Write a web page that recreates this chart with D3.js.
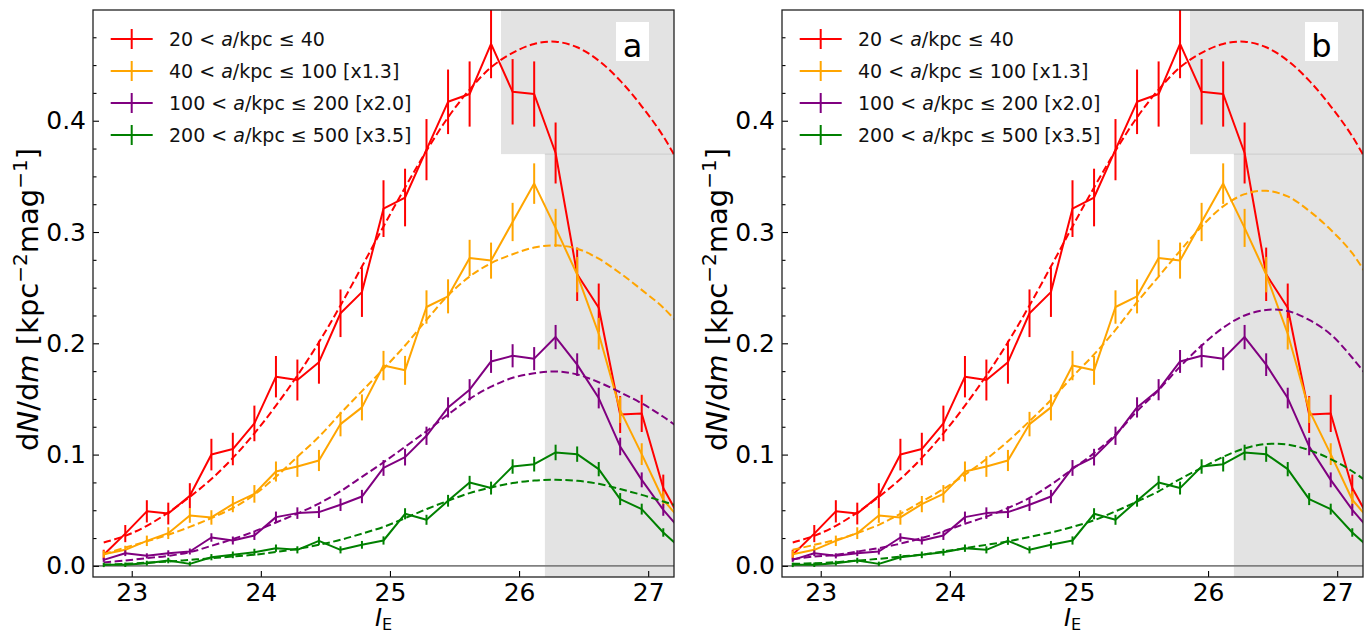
<!DOCTYPE html>
<html>
<head>
<meta charset="utf-8">
<script src="https://cdn.jsdelivr.net/npm/d3@7"></script>
<style>
  body { margin: 0; background: #fff; }
  svg { display: block; }
  text { font-family: "DejaVu Sans", sans-serif; white-space: pre; }
</style>
</head>
<body>
<svg id="fig" width="1368" height="635"></svg>
<script>
// Magnitude bin centres (bin width 1/6 mag); the last one lies past the plotted range
const magBins = [22.783, 22.950, 23.117, 23.283, 23.450, 23.617, 23.783, 23.950, 24.117, 24.283,
                 24.450, 24.617, 24.783, 24.950, 25.117, 25.283, 25.450, 25.617, 25.783, 25.950,
                 26.117, 26.283, 26.450, 26.617, 26.783, 26.950, 27.117, 27.283];

// Measured luminosity functions (already multiplied by the factor quoted in the legend)
const lfRed    = [0.010, 0.029, 0.049, 0.047, 0.063, 0.100, 0.105, 0.128, 0.170, 0.167, 0.183, 0.227, 0.246, 0.321,
                  0.331, 0.374, 0.417, 0.424, 0.469, 0.426, 0.424, 0.371, 0.262, 0.232, 0.136, 0.137, 0.070, 0.035];
const errRed   = [0.0045, 0.0077, 0.010, 0.0098, 0.0113, 0.0142, 0.0146, 0.016, 0.0186, 0.0184, 0.0193, 0.0214, 0.0223, 0.0255,
                  0.0259, 0.0275, 0.029, 0.0293, 0.0308, 0.0294, 0.0293, 0.0274, 0.024, 0.0217, 0.0166, 0.0167, 0.012, 0.0084];

const lfOrange = [0.0105, 0.0144, 0.0225, 0.0294, 0.0453, 0.0435, 0.0555, 0.0647, 0.0848, 0.0893, 0.0947, 0.1274, 0.1424, 0.180,
                  0.1757, 0.2326, 0.2422, 0.2767, 0.2743, 0.309, 0.3435, 0.3037, 0.2617, 0.2086, 0.140, 0.1004, 0.0594, 0.037];
const errOrange= [0.0032, 0.0037, 0.0047, 0.0053, 0.0066, 0.0065, 0.0073, 0.0079, 0.009, 0.0093, 0.0095, 0.011, 0.0117, 0.0132,
                  0.013, 0.015, 0.0153, 0.0163, 0.0162, 0.0172, 0.0182, 0.0171, 0.0159, 0.0142, 0.0116, 0.0098, 0.0076, 0.006];

const lfPurple = [0.0054, 0.0114, 0.009, 0.0114, 0.0129, 0.0255, 0.0228, 0.0273, 0.0438, 0.0474, 0.0483, 0.0549, 0.0623, 0.088,
                  0.0977, 0.1169, 0.1424, 0.1583, 0.1837, 0.1888, 0.1862, 0.2056, 0.1808, 0.1508, 0.1073, 0.0773, 0.0504, 0.028];
const errPurple= [0.0018, 0.0026, 0.0023, 0.0026, 0.0027, 0.0038, 0.0036, 0.004, 0.005, 0.0052, 0.0053, 0.0056, 0.006, 0.0071,
                  0.0075, 0.0082, 0.0091, 0.0095, 0.0103, 0.0104, 0.0104, 0.0109, 0.0102, 0.0093, 0.0079, 0.0067, 0.0054, 0.004];

const lfGreen  = [0.0009, 0.001, 0.0024, 0.0048, 0.0018, 0.0078, 0.0099, 0.0123, 0.0159, 0.0144, 0.0225, 0.0144, 0.0189, 0.0228,
                  0.0468, 0.0414, 0.0585, 0.0749, 0.0699, 0.0893, 0.0914, 0.1019, 0.1004, 0.0869, 0.060, 0.051, 0.030, 0.0126];
const errGreen = [0.002, 0.002, 0.0022, 0.0025, 0.002, 0.0028, 0.003, 0.0031, 0.0033, 0.0032, 0.0036, 0.0032, 0.0035, 0.0037,
                  0.005, 0.0045, 0.0053, 0.006, 0.0058, 0.0065, 0.0066, 0.007, 0.0069, 0.0064, 0.0054, 0.0049, 0.0038, 0.0028];

// Model curves evaluated at the bin centres
const fitRed     = [0.021, 0.027, 0.036, 0.048, 0.062, 0.078, 0.097, 0.119, 0.144, 0.171, 0.201, 0.234, 0.269, 0.305,
                    0.340, 0.373, 0.403, 0.428, 0.448, 0.461, 0.469, 0.471, 0.466, 0.454, 0.436, 0.413, 0.386, 0.352];
const fitOrangeA = [0.0105, 0.0165, 0.022, 0.028, 0.035, 0.043, 0.052, 0.064, 0.080, 0.098, 0.116, 0.137, 0.157, 0.177,
                    0.198, 0.221, 0.243, 0.260, 0.272, 0.280, 0.286, 0.288, 0.285, 0.276, 0.263, 0.248, 0.232, 0.211];
const fitPurpleA = [0.003, 0.0048, 0.0069, 0.009, 0.0123, 0.018, 0.024, 0.031, 0.039, 0.047, 0.056, 0.067, 0.080, 0.093,
                    0.107, 0.121, 0.136, 0.150, 0.161, 0.169, 0.173, 0.1747, 0.172, 0.165, 0.156, 0.146, 0.134, 0.120];
const fitGreenA  = [0.001, 0.0018, 0.003, 0.0039, 0.0054, 0.0069, 0.0084, 0.010, 0.0125, 0.0153, 0.0189, 0.0234, 0.029, 0.035,
                    0.0429, 0.051, 0.0585, 0.0654, 0.0704, 0.0744, 0.0767, 0.0773, 0.0764, 0.0737, 0.069, 0.0638, 0.0578, 0.052];
const fitOrangeB = [0.0144, 0.0189, 0.0234, 0.0294, 0.0369, 0.0468, 0.0578, 0.069, 0.082, 0.096, 0.112, 0.130, 0.149, 0.170,
                    0.190, 0.212, 0.237, 0.260, 0.283, 0.305, 0.323, 0.334, 0.337, 0.332, 0.319, 0.302, 0.281, 0.251];
const fitPurpleB = [0.006, 0.0084, 0.0099, 0.0129, 0.0159, 0.020, 0.025, 0.031, 0.0378, 0.0443, 0.052, 0.061, 0.073, 0.087,
                    0.1013, 0.118, 0.139, 0.158, 0.179, 0.198, 0.214, 0.225, 0.230, 0.229, 0.221, 0.208, 0.187, 0.163];
const fitGreenB  = [0.0018, 0.0024, 0.0033, 0.0048, 0.0063, 0.0084, 0.010, 0.0129, 0.0159, 0.0189, 0.022, 0.026, 0.030, 0.035,
                    0.041, 0.049, 0.0578, 0.067, 0.078, 0.088, 0.098, 0.1055, 0.1095, 0.109, 0.104, 0.096, 0.085, 0.071];

const binLow    = ["20", "40", "100", "200"];
const binHigh   = ["40", "100", "200", "500"];
const scaleTags = ["", " [x1.3]", " [x2.0]", " [x3.5]"];
const colors    = ["#ff0000", "#ffa500", "#800080", "#008000"];

const xTicks = [23, 24, 25, 26, 27];
const yTicks = [0.0, 0.1, 0.2, 0.3, 0.4];
const yMinorTicks = [0.025, 0.05, 0.075, 0.125, 0.15, 0.175, 0.225, 0.25, 0.275, 0.325, 0.35, 0.375, 0.425, 0.45, 0.475];

// Masked regions: faint-end band and the upper-right corner
const maskFaint = { x0: 26.2, x1: 27.2, y0: -0.01, y1: 0.5 };
const maskUpper = { x0: 25.86, x1: 27.2, y0: 0.37, y1: 0.5 };

const panels = [
  { left: 93,  tag: "a", fits: [fitRed, fitOrangeA, fitPurpleA, fitGreenA] },
  { left: 782, tag: "b", fits: [fitRed, fitOrangeB, fitPurpleB, fitGreenB] }
];

const svg = d3.select("#fig");
const W = 581, TOP = 10, BOTTOM = 577;
const FONT = "DejaVu Sans, sans-serif";

const obs = [
  { v: lfRed, e: errRed },
  { v: lfOrange, e: errOrange },
  { v: lfPurple, e: errPurple },
  { v: lfGreen, e: errGreen }
];

panels.forEach((p, pi) => {
  const x = d3.scaleLinear().domain([22.7, 27.2]).range([p.left, p.left + W]);
  const y = d3.scaleLinear().domain([-0.01, 0.4995]).range([BOTTOM, TOP]);
  const g = svg.append("g");

  const clipId = "clip" + pi;
  svg.append("clipPath").attr("id", clipId)
    .append("rect").attr("x", p.left).attr("y", TOP).attr("width", W).attr("height", BOTTOM - TOP);

  const plot = g.append("g").attr("clip-path", `url(#${clipId})`);

  // shaded regions
  [maskFaint, maskUpper].forEach(m => {
    plot.append("rect")
      .attr("x", x(m.x0)).attr("y", y(m.y1))
      .attr("width", x(m.x1) - x(m.x0)).attr("height", y(m.y0) - y(m.y1))
      .attr("fill", "#e3e3e3");
  });
  plot.append("line")
    .attr("x1", x(maskFaint.x0)).attr("x2", x(maskUpper.x1))
    .attr("y1", y(maskUpper.y0)).attr("y2", y(maskUpper.y0))
    .attr("stroke", "#cccccc").attr("stroke-width", 1);

  // zero line
  plot.append("line")
    .attr("x1", p.left).attr("x2", p.left + W)
    .attr("y1", y(0)).attr("y2", y(0))
    .attr("stroke", "#808080").attr("stroke-width", 1.6);

  const solid = d3.line().x((d, i) => x(magBins[i])).y(d => y(d));
  const smooth = d3.line().x((d, i) => x(magBins[i])).y(d => y(d)).curve(d3.curveCatmullRom.alpha(0.5));

  obs.forEach((s, si) => {
    const c = colors[si];
    plot.append("path").attr("d", solid(s.v))
      .attr("fill", "none").attr("stroke", c).attr("stroke-width", 2).attr("stroke-linejoin", "round");
    plot.selectAll(null).data(s.v).enter().append("line")
      .attr("x1", (d, i) => x(magBins[i])).attr("x2", (d, i) => x(magBins[i]))
      .attr("y1", (d, i) => y(d - s.e[i])).attr("y2", (d, i) => y(d + s.e[i]))
      .attr("stroke", c).attr("stroke-width", 2);
    plot.append("path").attr("d", smooth(p.fits[si]))
      .attr("fill", "none").attr("stroke", c).attr("stroke-width", 2)
      .attr("stroke-dasharray", "7.5,3.5");
  });

  // axes
  const yMajor = d3.axisLeft(y).tickValues(yTicks).tickSizeInner(-6).tickSizeOuter(0)
    .tickPadding(7).tickFormat(d3.format(".1f"));
  const yMinor = d3.axisLeft(y).tickValues(yMinorTicks).tickSizeInner(-3.5).tickSizeOuter(0).tickFormat("");
  const xMajor = d3.axisBottom(x).tickValues(xTicks).tickSizeInner(-6).tickSizeOuter(0)
    .tickPadding(6).tickFormat(d3.format("d"));

  const ga = g.append("g").attr("transform", `translate(${p.left},0)`).call(yMajor);
  const gm = g.append("g").attr("transform", `translate(${p.left},0)`).call(yMinor);
  const gx = g.append("g").attr("transform", `translate(0,${BOTTOM})`).call(xMajor);
  [ga, gm, gx].forEach(a => {
    a.select(".domain").remove();
    a.selectAll("line").attr("stroke", "#000").attr("stroke-width", 1.1);
    a.selectAll("text").attr("font-size", 25).attr("font-family", FONT).attr("fill", "#000");
  });

  // frame
  g.append("rect").attr("x", p.left).attr("y", TOP).attr("width", W).attr("height", BOTTOM - TOP)
    .attr("fill", "none").attr("stroke", "#222").attr("stroke-width", 1.3);

  // axis labels
  const cx = p.left + W / 2;
  const xl = g.append("text").attr("x", cx).attr("y", 626).attr("text-anchor", "middle")
    .attr("font-size", 24).attr("fill", "#000");
  xl.append("tspan").attr("font-style", "italic").text("I");
  xl.append("tspan").attr("font-size", 16).attr("dy", 4).text("E");

  const yl = g.append("text")
    .attr("transform", `translate(${p.left - 55},${(TOP + BOTTOM) / 2 + 6}) rotate(-90)`)
    .attr("text-anchor", "middle").attr("font-size", 29).attr("fill", "#000");
  yl.append("tspan").text("d");
  yl.append("tspan").attr("font-style", "italic").text("N");
  yl.append("tspan").text("/d");
  yl.append("tspan").attr("font-style", "italic").text("m");
  yl.append("tspan").text(" [kpc");
  yl.append("tspan").attr("font-size", 20).attr("dy", -11).text("\u22122");
  yl.append("tspan").attr("dy", 11).text("mag");
  yl.append("tspan").attr("font-size", 20).attr("dy", -11).text("\u22121");
  yl.append("tspan").attr("dy", 11).text("]");

  // legend
  const lg = g.append("g");
  colors.forEach((c, i) => {
    const ly = 39 + i * 32;
    const hx = p.left + 17.7;
    lg.append("line").attr("x1", hx).attr("x2", hx + 42).attr("y1", ly).attr("y2", ly)
      .attr("stroke", c).attr("stroke-width", 2);
    lg.append("line").attr("x1", hx + 21).attr("x2", hx + 21).attr("y1", ly - 10).attr("y2", ly + 10)
      .attr("stroke", c).attr("stroke-width", 2);
    const t = lg.append("text").attr("x", p.left + 76).attr("y", ly + 7)
      .attr("font-size", 19).attr("fill", "#111");
    t.append("tspan").text(binLow[i] + " < ");
    t.append("tspan").attr("font-style", "italic").text("a");
    t.append("tspan").text("/kpc \u2264 " + binHigh[i] + scaleTags[i]);
  });

  // panel tag in a white box
  const bx = p.left + 523;
  g.append("rect").attr("x", bx).attr("y", 22).attr("width", 33).attr("height", 39).attr("fill", "#fff");
  g.append("text").attr("x", bx + 16.5).attr("y", 57).attr("text-anchor", "middle")
    .attr("font-size", 32).attr("fill", "#000").text(p.tag);
});
</script>
</body>
</html>
